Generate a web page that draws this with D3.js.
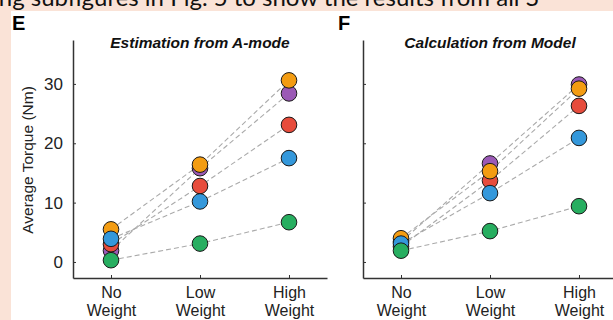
<!DOCTYPE html>
<html>
<head>
<meta charset="utf-8">
<script src="https://cdn.jsdelivr.net/npm/d3@7"></script>
<style>
  body { margin: 0; padding: 0; background: #fae3d7; }
  svg { display: block; }
</style>
</head>
<body>
<div id="chart"></div>
<script>
// categories on the x axis (two lines each)
var categories = ["No Weight", "Low Weight", "High Weight"];
var yTicks = [0, 10, 20, 30];

// subjects, in drawing order
var seriesColors = ["#9b59b6", "#e74c3c", "#f39c12", "#3498db", "#27ae60"];

// panel E: estimation from A-mode (Nm)
var estPurple = [1.9, 15.8, 28.4];
var estRed    = [3.0, 12.8, 23.1];
var estOrange = [5.5, 16.4, 30.6];
var estBlue   = [3.9, 10.2, 17.5];
var estGreen  = [0.3, 3.1, 6.7];

// panel F: calculation from model (Nm)
var modPurple = [3.4, 16.6, 29.9];
var modRed    = [2.6, 13.7, 26.3];
var modOrange = [4.0, 15.3, 29.2];
var modBlue   = [3.1, 11.6, 20.9];
var modGreen  = [1.9, 5.2, 9.4];

var width = 613, height = 320;

var svg = d3.select('#chart').append('svg')
    .attr('width', width)
    .attr('height', height);

// page background + slide text cut off at top
svg.append('rect').attr('width', width).attr('height', height).attr('fill', '#fae3d7');
svg.append('text')
    .attr('x', -7).attr('y', 6)
    .style('font-family', 'Lato, "Open Sans", sans-serif')
    .style('font-size', '24px')
    .attr('fill', '#111')
    .text('ing subfigures in Fig. 5 to show the results from all S');
svg.append('rect').attr('x', 11).attr('y', 11)
    .attr('width', width - 11).attr('height', height - 11).attr('fill', '#fff');

var y = d3.scaleLinear().domain([-2.7, 37.4]).range([278, 40]);

function panel(x0, title, letter, letterX, data, showY) {
    var x = d3.scalePoint().domain(categories).range([x0, x0 + 254]).padding(0.427);
    var g = svg.append('g');

    g.append('text')
        .attr('x', letterX).attr('y', 30)
        .style('font-family', '"Liberation Sans", Arial, sans-serif')
        .style('font-size', '20px').style('font-weight', 'bold')
        .text(letter);

    g.append('text')
        .attr('x', (x(categories[0]) + x(categories[2])) / 2).attr('y', 48)
        .attr('text-anchor', 'middle')
        .style('font-family', '"Liberation Sans", Arial, sans-serif')
        .style('font-size', '15.5px').style('font-weight', 'bold').style('font-style', 'italic')
        .attr('fill', '#111')
        .text(title);

    // y axis
    var ya = g.append('g')
        .attr('transform', 'translate(' + x0 + ',0)')
        .call(d3.axisLeft(y).tickValues(yTicks).tickSizeInner(-3).tickSizeOuter(0).tickPadding(10));
    ya.select('.domain').attr('stroke', '#333').attr('stroke-width', 1.5);
    ya.selectAll('.tick line').attr('stroke', '#333');
    ya.selectAll('.tick text')
        .style('font-family', '"Liberation Sans", Arial, sans-serif')
        .style('font-size', '17px').attr('fill', '#222');
    if (!showY) ya.selectAll('.tick text').remove();

    // x axis
    var xa = g.append('g')
        .attr('transform', 'translate(0,' + y.range()[0] + ')')
        .call(d3.axisBottom(x).tickSizeInner(-3).tickSizeOuter(0));
    xa.select('.domain').attr('stroke', '#333').attr('stroke-width', 1.5);
    xa.selectAll('.tick line').attr('stroke', '#333');
    xa.selectAll('.tick text').each(function(d) {
        var t = d3.select(this).text('').attr('y', 0).attr('dy', null)
            .style('font-family', '"Liberation Sans", Arial, sans-serif')
            .style('font-size', '16px').attr('fill', '#222');
        var parts = d.split(' ');
        t.append('tspan').attr('x', 0).attr('y', 20).text(parts[0]);
        t.append('tspan').attr('x', 0).attr('y', 38).text(parts[1]);
    });

    // dashed connecting lines
    var line = d3.line()
        .x(function(d, i) { return x(categories[i]); })
        .y(function(d) { return y(d); });
    g.append('g').selectAll('path')
        .data(data).enter().append('path')
        .attr('d', line)
        .attr('fill', 'none')
        .attr('stroke', '#aaa')
        .attr('stroke-width', 1.1)
        .attr('stroke-dasharray', '5,3');

    // dots
    var dots = g.append('g');
    data.forEach(function(s, si) {
        dots.selectAll('.s' + si)
            .data(s).enter().append('circle')
            .attr('cx', function(d, i) { return x(categories[i]); })
            .attr('cy', function(d) { return y(d); })
            .attr('r', 7.8)
            .attr('fill', seriesColors[si])
            .attr('stroke', '#1a1a1a')
            .attr('stroke-width', 1);
    });
}

panel(73, 'Estimation from A-mode', 'E', 12,
      [estPurple, estRed, estOrange, estBlue, estGreen], true);
panel(363, 'Calculation from Model', 'F', 338,
      [modPurple, modRed, modOrange, modBlue, modGreen], false);

// y axis label
svg.append('text')
    .attr('transform', 'translate(33,160) rotate(-90)')
    .attr('text-anchor', 'middle')
    .style('font-family', '"Liberation Sans", Arial, sans-serif')
    .style('font-size', '15.5px').attr('fill', '#222')
    .text('Average Torque (Nm)');
</script>
</body>
</html>
